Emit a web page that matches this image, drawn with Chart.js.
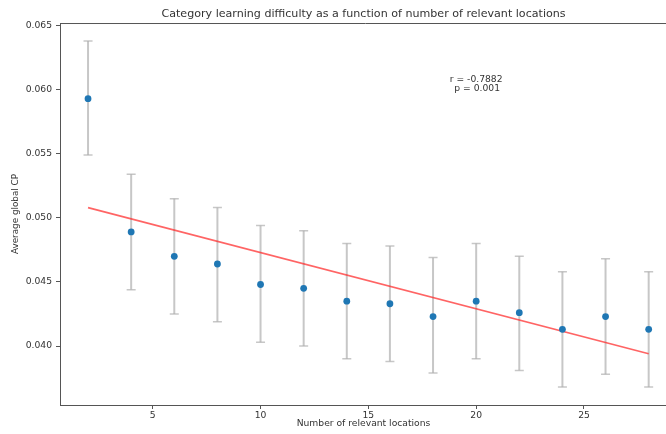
<!DOCTYPE html>
<html>
<head>
<meta charset="utf-8">
<script src="https://cdn.jsdelivr.net/npm/chart.js@4"></script>
<style>
  html, body { margin: 0; padding: 0; background: #fff; overflow: hidden; }
  #wrap { width: 671px; height: 434px; }
</style>
</head>
<body>
<div id="wrap"><canvas id="grafico"></canvas></div>
<script>
// Datos
const relevantLocations = [2, 4, 6, 8, 10, 12, 14, 16, 18, 20, 22, 24, 26, 28];
const avgGlobalCP = [0.0593, 0.0489, 0.0470, 0.0464, 0.0448, 0.0445, 0.0435, 0.0433, 0.0423, 0.0435, 0.0426, 0.0413, 0.0423, 0.0413];
const errLow = [0.0549, 0.0444, 0.0425, 0.0419, 0.0403, 0.0400, 0.0390, 0.0388, 0.0379, 0.0390, 0.0381, 0.0368, 0.0378, 0.0368];
const errHigh = [0.0638, 0.0534, 0.0515, 0.0508, 0.0494, 0.0490, 0.0480, 0.0478, 0.0469, 0.0480, 0.0470, 0.0458, 0.0468, 0.0458];
const fitX = [2, 28];
const fitY = [0.0508, 0.0394];
const xTicks = [5, 10, 15, 20, 25];
const yTicks = [0.040, 0.045, 0.050, 0.055, 0.060, 0.065];
const statsText = ['r = -0.7882', 'p = 0.001'];
const statsPos = [20, 0.0604];

const fontFam = "'DejaVu Sans', sans-serif";

// Barras de error dibujadas con las escalas del grafico
const errorBars = {
    id: 'errorBars',
    beforeDatasetsDraw(chart) {
        const { ctx, scales: { x, y } } = chart;
        ctx.save();
        ctx.strokeStyle = 'rgba(175,175,175,0.7)';
        relevantLocations.forEach((v, i) => {
            const px = x.getPixelForValue(v);
            const top = y.getPixelForValue(errHigh[i]);
            const bot = y.getPixelForValue(errLow[i]);
            ctx.lineWidth = 2;
            ctx.beginPath();
            ctx.moveTo(px, top); ctx.lineTo(px, bot);
            ctx.stroke();
            ctx.lineWidth = 1.5;
            ctx.beginPath();
            ctx.moveTo(px - 4.5, top); ctx.lineTo(px + 4.5, top);
            ctx.moveTo(px - 4.5, bot); ctx.lineTo(px + 4.5, bot);
            ctx.stroke();
        });
        ctx.restore();
    }
};

// Borde superior y texto de estadisticas
const extras = {
    id: 'extras',
    afterDraw(chart) {
        const { ctx, chartArea, scales: { x, y } } = chart;
        ctx.save();
        ctx.strokeStyle = '#555';
        ctx.lineWidth = 1;
        ctx.beginPath();
        ctx.moveTo(chartArea.left, chartArea.top + 0.5);
        ctx.lineTo(chart.width, chartArea.top + 0.5);
        ctx.stroke();

        ctx.fillStyle = '#333';
        ctx.font = '9.2px ' + fontFam;
        ctx.textAlign = 'center';
        ctx.textBaseline = 'middle';
        const cx = x.getPixelForValue(statsPos[0]);
        const cy = y.getPixelForValue(statsPos[1]);
        ctx.fillText(statsText[0], cx, cy - 4.5);
        ctx.fillText(statsText[1], cx + 1, cy + 4.5);
        ctx.restore();
    }
};

const ctx = document.getElementById('grafico').getContext('2d');

new Chart(ctx, {
    data: {
        datasets: [
            {
                type: 'line',
                label: 'fit',
                data: fitX.map((v, i) => ({ x: v, y: fitY[i] })),
                borderColor: 'rgba(255,40,40,0.72)',
                borderWidth: 1.7,
                pointRadius: 0,
                fill: false,
                order: 2
            },
            {
                type: 'scatter',
                label: 'CP',
                data: relevantLocations.map((v, i) => ({ x: v, y: avgGlobalCP[i] })),
                backgroundColor: '#1f77b4',
                borderColor: '#1f77b4',
                pointRadius: 3.4,
                borderWidth: 0,
                order: 1
            }
        ]
    },
    options: {
        responsive: true,
        maintainAspectRatio: false,
        animation: false,
        layout: { padding: 0 },
        plugins: {
            legend: { display: false },
            tooltip: { enabled: false },
            title: {
                display: true,
                text: 'Category learning difficulty as a function of number of relevant locations',
                fullSize: false,
                color: '#333',
                font: { family: fontFam, size: 11.1, weight: 'normal' },
                padding: { top: 7.3, bottom: 2.4 }
            }
        },
        scales: {
            x: {
                type: 'linear',
                min: 0.7,
                max: 28.85,
                afterBuildTicks: s => { s.ticks = xTicks.map(v => ({ value: v })); },
                afterFit: s => { s.height = 29; },
                grid: { drawOnChartArea: false, drawTicks: true, tickLength: 4, color: '#555' },
                border: { display: true, color: '#555', width: 1 },
                ticks: { color: '#333', padding: 1, font: { family: fontFam, size: 9.2 } },
                title: {
                    display: true,
                    text: 'Number of relevant locations',
                    color: '#333',
                    font: { family: fontFam, size: 9.2 },
                    padding: { top: 0, bottom: 4.5 }
                }
            },
            y: {
                type: 'linear',
                min: 0.0354,
                max: 0.0652,
                afterBuildTicks: s => { s.ticks = yTicks.map(v => ({ value: v })); },
                afterFit: s => { s.width = 60; },
                grid: { drawOnChartArea: false, drawTicks: true, tickLength: 4, color: '#555' },
                border: { display: true, color: '#555', width: 1 },
                ticks: {
                    color: '#333',
                    padding: 4,
                    font: { family: fontFam, size: 9.2 },
                    callback: v => v.toFixed(3)
                },
                title: {
                    display: true,
                    text: 'Average global CP',
                    color: '#333',
                    font: { family: fontFam, size: 8.8 },
                    padding: { top: 10.5, bottom: 0 }
                }
            }
        }
    },
    plugins: [errorBars, extras]
});
</script>
</body>
</html>
